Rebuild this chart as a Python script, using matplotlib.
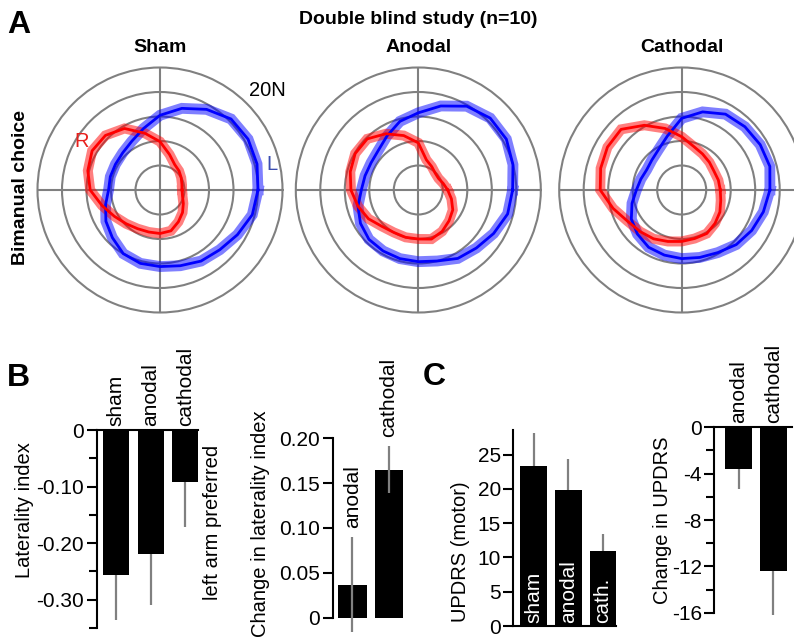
import numpy as np
import matplotlib
matplotlib.use('Agg')
import matplotlib.pyplot as plt
from matplotlib.ticker import MultipleLocator, FixedLocator, FuncFormatter

plt.rcParams['font.family'] = ['Liberation Sans', 'DejaVu Sans']
plt.rcParams['axes.unicode_minus'] = False

W, H = 794, 637

# ---- panel A: bimanual choice, force (N) every 15 deg, counter-clockwise from 0 deg
angles_deg = np.arange(0, 360, 15)
conditions = ['Sham', 'Anodal', 'Cathodal']

left_sham = [16.0, 16.4, 16.6, 16.4, 15.2, 13.8, 12.2, 10.4, 9.2, 8.6, 8.4, 8.4,
             8.4, 9.2, 10.2, 11.0, 12.0, 12.4, 12.5, 12.8, 13.4, 13.8, 14.6, 15.6]
right_sham = [3.6, 3.7, 4.0, 4.4, 4.8, 6.0, 7.9, 9.6, 11.6, 12.6, 12.8, 12.2,
              11.4, 9.8, 8.6, 7.8, 7.3, 7.1, 7.1, 6.9, 6.0, 5.2, 4.4, 3.8]
left_anodal = [15.4, 16.0, 16.6, 16.6, 15.8, 14.2, 12.6, 11.6, 10.2, 9.2, 8.9, 9.0,
               9.3, 10.2, 10.9, 11.4, 11.5, 11.6, 11.7, 12.0, 12.9, 13.4, 14.2, 15.1]
right_anodal = [4.8, 4.2, 3.8, 3.9, 4.4, 5.1, 7.7, 9.2, 10.6, 11.8, 11.9, 11.5,
                11.0, 10.2, 9.4, 8.4, 8.0, 8.0, 8.0, 8.3, 7.8, 7.1, 6.5, 5.6]
left_cathodal = [14.4, 14.9, 14.8, 14.6, 14.3, 13.2, 11.7, 9.1, 7.6, 6.9, 6.6, 6.9,
                 7.4, 8.4, 9.5, 10.2, 10.8, 11.0, 11.2, 11.4, 11.8, 12.6, 13.2, 13.8]
right_cathodal = [6.3, 6.2, 6.1, 6.4, 6.8, 7.4, 8.7, 10.4, 12.2, 14.0, 14.0, 13.7,
                  13.3, 11.6, 10.2, 9.6, 9.2, 8.7, 8.4, 8.2, 8.2, 7.7, 7.2, 6.6]

left_arm = [left_sham, left_anodal, left_cathodal]
right_arm = [right_sham, right_anodal, right_cathodal]
ring_values = [4, 8, 12, 16]
r_max = 20

# ---- panel B
li_labels = ['sham', 'anodal', 'cathodal']
li_mean = [-0.257, -0.219, -0.092]
li_err = [0.078, 0.091, 0.080]

dli_labels = ['anodal', 'cathodal']
dli_mean = [0.0365, 0.165]
dli_err = [0.053, 0.026]

# ---- panel C
updrs_labels = ['sham', 'anodal', 'cath.']
updrs_mean = [23.3, 19.8, 10.9]
updrs_err = [4.9, 4.6, 2.5]

dupdrs_labels = ['anodal', 'cathodal']
dupdrs_mean = [-3.6, -12.4]
dupdrs_err = [1.75, 3.8]

GRAY = '#808080'
FS = 15      # tick / bar labels
LFS = 14.5   # axis labels
TFS = 14     # bold titles


def px_rect(x0, y0, x1, y1):
    return [x0 / W, 1 - y1 / H, (x1 - x0) / W, (y1 - y0) / H]


def ftext(x, y, s, **kw):
    fig.text(x / W, 1 - y / H, s, **kw)


fig = plt.figure(figsize=(W / 100, H / 100), dpi=100)

# ---------------- A: polar plots
centers = [160, 418.3, 681.7]
cy, rad = 190, 122.5
th = np.deg2rad(np.append(angles_deg, angles_deg[0]))
polar_axes = []
for i, cx in enumerate(centers):
    ax = fig.add_axes(px_rect(cx - rad, cy - rad, cx + rad, cy + rad), projection='polar')
    ax.set_ylim(0, r_max)
    ax.set_rgrids(ring_values, labels=[''] * len(ring_values))
    ax.set_thetagrids([0, 90, 180, 270], labels=[''] * 4)
    ax.grid(True, color=GRAY, lw=1.5)
    ax.spines['polar'].set_color(GRAY)
    ax.spines['polar'].set_linewidth(1.5)
    ax.tick_params(pad=0, length=0)
    lft = np.append(left_arm[i], left_arm[i][0])
    rgt = np.append(right_arm[i], right_arm[i][0])
    ax.plot(th, lft, color='#0000ff', alpha=0.5, lw=7.8, solid_joinstyle='miter')
    ax.plot(th, rgt, color='#ff0000', alpha=0.5, lw=7.2, solid_joinstyle='miter')
    ax.plot(th, lft, color='#0000ff', lw=2)
    ax.plot(th, rgt, color='#ff0000', lw=2)
    ftext(cx, 48, conditions[i], fontsize=TFS, fontweight='bold', ha='center', va='center')
    polar_axes.append(ax)

ax0 = polar_axes[0]
ax0.text(np.deg2rad(43), 23.9, '20N', fontsize=14.5, ha='center', va='center', clip_on=False)
ax0.text(np.deg2rad(148), 15.0, 'R', fontsize=14.5, color='#e8201c', ha='center', va='center')
ax0.text(np.deg2rad(12.6), 18.8, 'L', fontsize=14.5, color='#3a4cb0', ha='center', va='center')

ftext(418, 20, 'Double blind study (n=10)', fontsize=TFS, fontweight='bold', ha='center', va='center')
ftext(21, 188, 'Bimanual choice', fontsize=TFS, fontweight='bold', rotation=90, ha='center', va='center')
ftext(19, 25, 'A', fontsize=23, fontweight='bold', ha='center', va='center')
ftext(18, 378, 'B', fontsize=23, fontweight='bold', ha='center', va='center')
ftext(434, 377, 'C', fontsize=23, fontweight='bold', ha='center', va='center')


def style(ax):
    for s in ax.spines.values():
        s.set_linewidth(1.5)
    ax.tick_params(axis='y', which='both', direction='out', width=1.5, labelsize=FS, pad=2)
    ax.tick_params(axis='y', which='major', length=7)
    ax.tick_params(axis='y', which='minor', length=6)
    ax.spines['right'].set_visible(False)


# ---------------- B left: laterality index
ax = fig.add_axes(px_rect(96.7, 430, 198.3, 628))
x = np.arange(len(li_mean))
ax.bar(x, li_mean, width=0.75, color='k')
ax.errorbar(x, li_mean, yerr=[li_err, [0] * len(li_err)], fmt='none', ecolor=GRAY,
            elinewidth=1.6, capsize=0, clip_on=False)
ax.set_xlim(-0.55, 2.37)
ax.set_ylim(-0.35, 0)
style(ax)
ax.spines['bottom'].set_visible(False)
ax.yaxis.set_major_locator(FixedLocator([0, -0.1, -0.2, -0.3]))
ax.yaxis.set_minor_locator(FixedLocator([-0.05, -0.15, -0.25, -0.35]))
ax.yaxis.set_major_formatter(FuncFormatter(lambda v, p: '0' if abs(v) < 1e-9 else '%.2f' % v))
ax.xaxis.tick_top()
ax.set_xticks(x)
ax.set_xticklabels(li_labels, rotation=90, fontsize=FS)
ax.tick_params(axis='x', length=0, pad=3)
ftext(25, 510, 'Laterality index', fontsize=LFS, rotation=90, ha='center', va='center')
ftext(213, 522, 'left arm preferred', fontsize=LFS, rotation=90, ha='center', va='center')

# ---------------- B right: change in laterality index
ax = fig.add_axes(px_rect(332.7, 438.3, 405.7, 635.6))
x = np.arange(len(dli_mean))
ax.bar(x, dli_mean, width=0.78, color='k')
ax.errorbar(x, dli_mean, yerr=dli_err, fmt='none', ecolor=GRAY, elinewidth=1.6,
            capsize=0, clip_on=False)
ax.set_xlim(-0.527, 1.45)
ax.set_ylim(-0.02, 0.2)
style(ax)
ax.spines['top'].set_visible(False)
ax.spines['bottom'].set_visible(False)
ax.spines['left'].set_bounds(0, 0.2)
ax.set_xticks([])
ax.yaxis.set_major_locator(FixedLocator([0, 0.05, 0.1, 0.15, 0.2]))
ax.yaxis.set_major_formatter(FuncFormatter(lambda v, p: '0' if abs(v) < 1e-9 else '%.2f' % v))
for xi, m, e, lab in zip(x, dli_mean, dli_err, dli_labels):
    ax.annotate(lab, (xi, m + e), xytext=(0, 7), textcoords='offset points', rotation=90,
                ha='center', va='bottom', fontsize=FS)
ftext(260, 524, 'Change in laterality index', fontsize=LFS, rotation=90, ha='center', va='center')

# ---------------- C left: UPDRS
ax = fig.add_axes(px_rect(513.3, 430, 616.3, 626))
x = np.arange(len(updrs_mean))
ax.bar(x, updrs_mean, width=0.77, color='k')
ax.errorbar(x, updrs_mean, yerr=[[0] * len(updrs_err), updrs_err], fmt='none', ecolor=GRAY,
            elinewidth=1.6, capsize=0, clip_on=False)
ax.set_xlim(-0.59, 2.38)
ax.set_ylim(0, 28.6)
style(ax)
ax.spines['top'].set_visible(False)
ax.set_xticks([])
ax.yaxis.set_major_locator(MultipleLocator(5))
for xi, lab in zip(x, updrs_labels):
    ax.text(xi, 0.4, lab, rotation=90, color='white', ha='center', va='bottom', fontsize=FS)
ftext(460, 552, 'UPDRS (motor)', fontsize=LFS, rotation=90, ha='center', va='center')

# ---------------- C right: change in UPDRS
ax = fig.add_axes(px_rect(714.3, 427.3, 792, 612.7))
x = np.arange(len(dupdrs_mean))
ax.bar(x, dupdrs_mean, width=0.78, color='k')
ax.errorbar(x, dupdrs_mean, yerr=[dupdrs_err, [0] * len(dupdrs_err)], fmt='none', ecolor=GRAY,
            elinewidth=1.6, capsize=0, clip_on=False)
ax.set_xlim(-0.70, 1.54)
ax.set_ylim(-16, 0)
style(ax)
ax.spines['bottom'].set_visible(False)
ax.yaxis.set_major_locator(MultipleLocator(4))
ax.yaxis.set_minor_locator(MultipleLocator(2))
ax.yaxis.set_major_formatter(FuncFormatter(lambda v, p: '%d' % round(v)))
ax.xaxis.tick_top()
ax.set_xticks(x)
ax.set_xticklabels(dupdrs_labels, rotation=90, fontsize=FS)
ax.tick_params(axis='x', length=0, pad=3)
ftext(662, 520, 'Change in UPDRS', fontsize=LFS, rotation=90, ha='center', va='center')

fig.savefig('out.png', dpi=100)
